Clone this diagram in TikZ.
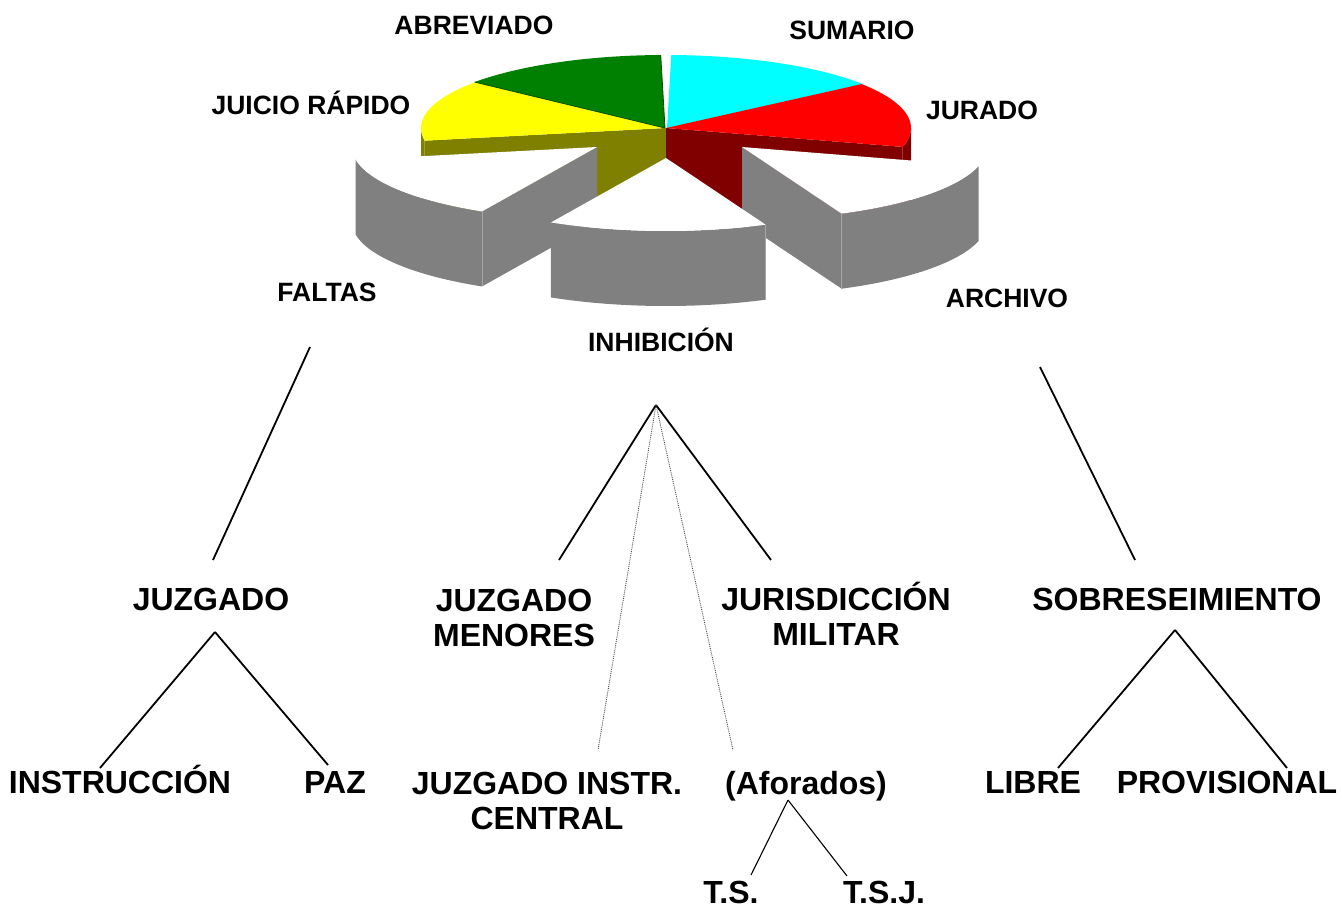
\documentclass[tikz,border=0pt]{standalone}
\usepackage{fontspec}
\setmainfont{Liberation Sans}
\definecolor{pyellow}{RGB}{255,255,0}
\definecolor{polive}{RGB}{128,128,0}
\definecolor{pgreen}{RGB}{0,128,0}
\definecolor{pdkgreen}{RGB}{0,80,0}
\definecolor{pcyan}{RGB}{0,255,255}
\definecolor{pred}{RGB}{255,0,0}
\definecolor{pdkred}{RGB}{128,0,0}
\definecolor{pgray}{RGB}{128,128,128}
\begin{document}
\begin{tikzpicture}[x=1pt,y=-1pt,
    lab/.style={font=\fontsize{26.5}{30}\selectfont\bfseries,inner sep=0pt,anchor=base},
    big/.style={font=\fontsize{32}{35}\selectfont\bfseries,inner sep=0pt,anchor=base,align=center},
    wall/.style={fill=pgray},
    joint/.style={draw=pgray!70,line width=0.6pt}]
  \useasboundingbox (0,0) rectangle (1342,908);
  % sides of the top slices
  \fill[polive] (666,128) -- ({666+245*cos(190)},{128-73*sin(190)}) -- ++(0,75) -- (666,203) -- cycle;
  \fill[polive] plot[domain=180:190,samples=8] ({666+245*cos(\x)},{128-73*sin(\x)})
    -- plot[domain=190:180,samples=8] ({666+245*cos(\x)},{203-73*sin(\x)}) -- cycle;
  \fill[pdkred] (666,128) -- ({666+245*cos(-15)},{128-73*sin(-15)}) -- ++(0,75) -- (666,203) -- cycle;
  \fill[pdkred] plot[domain=-15:0,samples=8] ({666+245*cos(\x)},{128-73*sin(\x)})
    -- plot[domain=0:-15,samples=8] ({666+245*cos(\x)},{203-73*sin(\x)}) -- cycle;
  % top slices
  \fill[pyellow] (666,128) -- plot[domain=141:190,samples=30] ({666+245*cos(\x)},{128-73*sin(\x)}) -- cycle;
  \fill[pgreen] (665,128) -- plot[domain=91:141,samples=30] ({665+245*cos(\x)},{128-73*sin(\x)}) -- cycle;
  \fill[pcyan] (667,128) -- plot[domain=37:89,samples=30] ({667+245*cos(\x)},{128-73*sin(\x)}) -- cycle;
  \fill[pred] (666,128) -- plot[domain=-15:37,samples=30] ({666+245*cos(\x)},{128-73*sin(\x)}) -- cycle;
  \draw[pdkgreen,line width=0.8pt] (665,128) -- ({665+245*cos(141)},{128-73*sin(141)});
  \draw[pdkgreen,line width=0.8pt] (665,128) -- ({665+245*cos(91)},{128-73*sin(91)});
  % faltas slice
  \fill[wall] (597,147) -- ({597+245*cos(242)},{147-73*sin(242)}) -- ++(0,75) -- (597,222) -- cycle;
  \fill[wall] plot[domain=190:242,samples=30] ({597+245*cos(\x)},{147-73*sin(\x)})
    -- plot[domain=242:190,samples=30] ({597+245*cos(\x)},{222-73*sin(\x)}) -- cycle;
  \fill[white] (597,147) -- plot[domain=190:242,samples=30] ({597+245*cos(\x)},{147-73*sin(\x)}) -- cycle;
  \draw[joint] ({597+245*cos(242)},{147-73*sin(242)}) -- ++(0,75);
  % archivo slice
  \fill[wall] (742,147) -- ({742+245*cos(294)},{147-73*sin(294)}) -- ++(0,75) -- (742,222) -- cycle;
  \fill[wall] plot[domain=294:345,samples=30] ({742+245*cos(\x)},{147-73*sin(\x)})
    -- plot[domain=345:294,samples=30] ({742+245*cos(\x)},{222-73*sin(\x)}) -- cycle;
  \fill[white] (742,147) -- plot[domain=294:345,samples=30] ({742+245*cos(\x)},{147-73*sin(\x)}) -- cycle;
  \draw[joint] ({742+245*cos(294)},{147-73*sin(294)}) -- ++(0,75);
  % inhibicion slice
  \fill[wall] plot[domain=242:294,samples=30] ({666+245*cos(\x)},{158-73*sin(\x)})
    -- plot[domain=294:242,samples=30] ({666+245*cos(\x)},{233-73*sin(\x)}) -- cycle;
  \fill[white] (666,158) -- plot[domain=242:294,samples=30] ({666+245*cos(\x)},{158-73*sin(\x)}) -- cycle;
  \draw[joint] ({666+245*cos(294)},{158-73*sin(294)}) -- ++(0,75);
  % labels (two-line nodes sit on their last baseline)
  \path
    (474,34.5) node[lab] (abreviado){ABREVIADO}
    (852,39.5) node[lab] (sumario){SUMARIO}
    (982,119.5) node[lab] (jurado){JURADO}
    (311,114.5) node[lab] (rapido){JUICIO RÁPIDO}
    (327,301.5) node[lab] (faltas){FALTAS}
    (661,351.5) node[lab] (inhib){INHIBICIÓN}
    (1007,307.5) node[lab] (archivo){ARCHIVO}
    (211,610.5) node[big] (juzgado){JUZGADO}
    (514,646.5) node[big] (menores){JUZGADO\\MENORES}
    (836,645.5) node[big] (militar){JURISDICCIÓN\\MILITAR}
    (1177,610.5) node[big] (sobres){SOBRESEIMIENTO}
    (120,793.5) node[big] (instr){INSTRUCCIÓN}
    (335,793.5) node[big] (paz){PAZ}
    (547,829.5) node[big] (central){JUZGADO INSTR.\\CENTRAL}
    (806,794.5) node[big] (aforados){(Aforados)}
    (1033,793.5) node[big] (libre){LIBRE}
    (1227,793.5) node[big] (provis){PROVISIONAL}
    (731,903) node[big] (ts){T.S.}
    (884,903) node[big] (tsj){T.S.J.};
  % line ends
  \path
    (310,347) coordinate (faltas-d)
    (213,560) coordinate (juzgado-u)
    (656,405) coordinate (inhib-d)
    (559,560) coordinate (menores-u)
    (771,560) coordinate (militar-u)
    (598,750) coordinate (central-u)
    (733,750) coordinate (aforados-u)
    (1040,367) coordinate (archivo-d)
    (1135,560) coordinate (sobres-u)
    (215,632) coordinate (juzgado-d)
    (100,768) coordinate (instr-u)
    (328,765) coordinate (paz-u)
    (1175,630) coordinate (sobres-d)
    (1058,768) coordinate (libre-u)
    (1287,768) coordinate (provis-u)
    (788,800) coordinate (aforados-d)
    (751,875) coordinate (ts-u)
    (847,876) coordinate (tsj-u);
  \begin{scope}[line width=1.8pt]
    \draw (faltas-d) to (juzgado-u);
    \draw (inhib-d) to (menores-u);
    \draw (inhib-d) to (militar-u);
    \draw (archivo-d) to (sobres-u);
    \draw (juzgado-d) to (instr-u);
    \draw (juzgado-d) to (paz-u);
    \draw (sobres-d) to (libre-u);
    \draw (sobres-d) to (provis-u);
  \end{scope}
  \begin{scope}[densely dotted,line width=0.9pt,black!70]
    \draw (inhib-d) to (central-u);
    \draw (inhib-d) to (aforados-u);
  \end{scope}
  \begin{scope}[line width=1.1pt]
    \draw (aforados-d) to (ts-u);
    \draw (aforados-d) to (tsj-u);
  \end{scope}
\end{tikzpicture}
\end{document}
